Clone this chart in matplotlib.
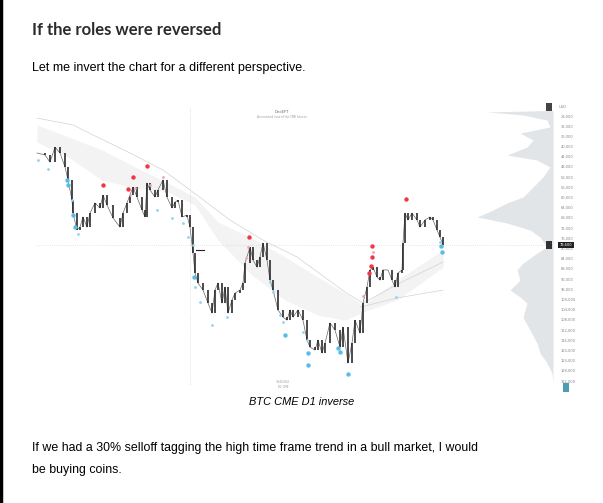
import numpy as np
import matplotlib
matplotlib.use('Agg')
import matplotlib.pyplot as plt

# price trace (bar position, close in thousands, inverted chart)
bars = [37, 45, 50, 55, 60, 65, 68, 72, 73, 77, 80, 83, 87, 90, 95, 100, 103, 107, 113, 120,
        123, 127, 130, 133, 137, 142, 145, 147, 150, 155, 158, 163, 167, 172, 175, 178, 182, 187, 190, 193,
        195, 198, 203, 208, 212, 215, 218, 222, 225, 228, 232, 235, 240, 243, 245, 250, 253, 257, 260, 263,
        267, 270, 273, 278, 283, 287, 290, 293, 298, 303, 307, 310, 315, 318, 322, 325, 330, 335, 340, 343,
        348, 352, 355, 360, 363, 367, 370, 373, 377, 380, 383, 388, 392, 395, 398, 402, 403, 405, 408, 412,
        417, 420, 425, 430, 433, 437, 440, 443]
closes = [42.5, 43.3, 46.1, 40.2, 42.5, 48.0, 53.1, 61.0, 66.1, 72.7, 71.6, 67.6, 71.6, 66.1, 62.1, 64.1, 59.0, 62.9, 68.0, 71.6,
          66.1, 62.1, 59.0, 55.9, 59.8, 64.9, 67.6, 54.3, 57.0, 59.8, 57.0, 53.1, 59.8, 64.1, 61.8, 61.0, 67.6, 66.9, 71.6, 81.8,
          89.6, 93.5, 96.3, 101.4, 105.3, 96.3, 93.5, 101.4, 95.1, 105.3, 100.2, 97.5, 96.3, 93.5, 85.7, 79.4, 84.5, 87.3, 83.3, 77.8,
          84.5, 92.4, 96.3, 104.1, 106.9, 108.1, 104.1, 106.9, 104.1, 108.1, 115.9, 118.7, 119.8, 115.9, 121.0, 117.1, 109.2, 112.0, 118.7, 110.8,
          124.9, 117.1, 108.1, 113.2, 101.4, 95.1, 88.4, 87.3, 91.2, 92.4, 88.4, 88.4, 92.4, 95.1, 89.6, 88.4, 77.8, 66.1, 68.8, 66.1,
          68.8, 71.6, 68.8, 67.6, 68.8, 72.7, 75.5, 78.6]

# moving average ribbon
band_x = [37, 68, 102, 135, 168, 195, 218, 252, 285, 318, 345, 363, 397, 443]
band_hi = [31.5, 36.2, 41.3, 48.0, 54.3, 59.8, 69.6, 75.9, 83.3, 91.2, 97.5, 102.2, 92.4, 80.6]
band_lo = [38.2, 44.1, 53.1, 56.3, 57.8, 62.9, 76.7, 90.4, 100.2, 106.1, 108.1, 104.9, 100.2, 87.3]
ma1_x = [37, 73, 97, 130, 163, 190, 230, 263, 297, 345, 363, 400, 443]
ma1_y = [28.8, 31.5, 36.2, 42.5, 49.2, 57.0, 68.8, 76.7, 83.3, 97.1, 101.4, 93.5, 85.3]
ma2_x = [360, 397, 443]
ma2_y = [103.0, 99.4, 96.3]

# signal dots
red_big_x = [103, 128, 133, 147, 249, 406, 372, 372, 371, 369]
red_big_y = [55.1, 56.7, 51.9, 47.6, 75.5, 60.6, 79.0, 83.3, 86.9, 89.6]
red_sm_x = [135, 163, 130, 150, 248, 246, 363, 373]
red_sm_y = [56.3, 51.9, 59.0, 55.1, 79.4, 83.7, 98.7, 81.4]
blue_big_x = [67, 68, 73, 75, 194, 285, 308, 308, 338, 340, 348, 441, 442]
blue_big_y = [53.1, 55.1, 66.9, 71.6, 91.2, 114.0, 125.7, 121.0, 119.1, 120.6, 129.3, 79.0, 81.4]
blue_sm_x = [38, 48, 72, 78, 157, 172, 183, 188, 193, 195, 200, 212, 227, 270, 273, 280, 283, 303, 307, 396, 440]
blue_sm_y = [45.3, 48.8, 61.0, 74.3, 64.9, 68.0, 70.0, 75.5, 78.6, 95.1, 101.0, 110.0, 106.9, 93.2, 97.1, 106.1, 108.9, 112.8, 115.9, 99.0, 77.5]

# volume profile
prof_y = [25.8, 26.4, 27.6, 29.6, 32.3, 34.7, 37.4, 40.2, 43.3, 45.3, 48.0, 51.9, 55.9, 59.8, 62.1, 64.9, 67.6, 70.0,
          72.7, 75.5, 79.4, 81.8, 85.7, 88.4, 92.4, 96.3, 99.0, 101.4, 106.9, 112.0, 117.1, 121.0, 124.9, 128.9, 132.8]
prof_w = [0, 66, 30, 6, 3, 33, 20, 26, 46, 16, 3, 10, 20, 30, 46, 60, 76, 46,
          23, 13, 6, 16, 30, 36, 33, 43, 33, 26, 30, 23, 16, 13, 6, 1, 0]

price_ticks = list(range(28, 133, 4))
last_price = 78.6

W, H = 603, 503
fig = plt.figure(figsize=(W / 100, H / 100), dpi=100)

def fx(px):
    return px / W

def fy(py):
    return 1 - py / H

# left page border
fig.add_artist(plt.Line2D([0.002, 0.002], [0, 1], color='black', lw=2.5))

fig.text(fx(32), fy(30), 'If the roles were reversed', fontsize=12, fontweight='bold',
         color='#2b2b2b', family='Lato', va='center', ha='left')
fig.text(fx(32), fy(68), 'Let me invert the chart for a different perspective.', fontsize=9,
         color='black', family='Liberation Sans', va='center', ha='left')
fig.text(fx(302), fy(402), 'BTC CME D1 inverse', fontsize=7.9, style='italic',
         color='black', family='Liberation Sans', va='center', ha='center')
fig.text(fx(32), fy(448), 'If we had a 30% selloff tagging the high time frame trend in a bull market, I would',
         fontsize=8.9, color='black', family='Liberation Sans', va='center', ha='left')
fig.text(fx(32), fy(470), 'be buying coins.', fontsize=8.9, color='black',
         family='Liberation Sans', va='center', ha='left')

ax = fig.add_axes([fx(35), fy(390), fx(555 - 35), (390 - 105) / H])
ax.set_xlim(35, 555)
ax.set_ylim(135.5, 23.68)
ax.patch.set_alpha(0)
for s in ax.spines.values():
    s.set_visible(False)

# volume profile
ax.fill_betweenx(prof_y, 553 - np.array(prof_w), 553, color='#e2e5e8', lw=0, zorder=1)

# ribbon and averages
ax.fill_between(band_x, band_hi, band_lo, color='#f3f3f3', lw=0, zorder=1)
ax.plot(ma1_x, ma1_y, color='#d2d2d2', lw=0.5, zorder=2)
ax.plot(ma2_x, ma2_y, color='#d2d2d2', lw=0.5, zorder=2)

# crosshair
ax.axvline(190, ymin=0.02, ymax=0.99, color='#c8c8c8', lw=0.5, ls=(0, (1, 2)), zorder=1)
ax.plot([37, 553], [last_price, last_price], color='#d0d0d0', lw=0.5, ls=(0, (1, 2)), zorder=1)

# price candles
ax.plot(bars, closes, color='#666666', lw=0.5, zorder=3)
opens = closes[:-1]
ax.vlines(bars[1:], opens, closes[1:], color='#1a1a1a', lw=1.1, zorder=3)

# signal dots
ax.scatter(red_big_x, red_big_y, s=10, color='#f23645', lw=0, zorder=4)
ax.scatter(red_sm_x, red_sm_y, s=4, color='#f7a1aa', lw=0, zorder=4)
ax.scatter(blue_big_x, blue_big_y, s=10, color='#55bde8', lw=0, zorder=4)
ax.scatter(blue_sm_x, blue_sm_y, s=4, color='#8fd3f0', lw=0, zorder=4)
ax.plot([196, 204], [80.6, 80.6], color='#222222', lw=0.8, zorder=4)

# price scale
ax.yaxis.tick_right()
ax.set_yticks(price_ticks)
ax.set_yticklabels(['{:,}'.format(v * 1000) for v in price_ticks], fontsize=2.6, color='#888888')
ax.tick_params(axis='y', length=0, pad=4)
ax.set_xticks([])
ax.text(566, last_price, '{:,}'.format(int(last_price * 1000)), fontsize=2.6, color='white',
        ha='center', va='center', zorder=5,
        bbox=dict(boxstyle='square,pad=0.4', fc='#222222', ec='none'))
ax.text(549, last_price, ' ', fontsize=3,
        bbox=dict(boxstyle='square,pad=0.5', fc='#333333', ec='none'), ha='center', va='center')
ax.text(549, 24.6, ' ', fontsize=3,
        bbox=dict(boxstyle='square,pad=0.5', fc='#444444', ec='none'), ha='center', va='center')
ax.text(559, 24.6, 'USD', fontsize=2.6, color='#888888', ha='left', va='center')
ax.text(566, 134.5, ' ', fontsize=4,
        bbox=dict(boxstyle='square,pad=0.3', fc='#4a9fb5', ec='none'), ha='center', va='center')

# chart header and footer
ax.text(282, 26.4, 'DecEFT', fontsize=2.8, color='#666666', ha='center', va='center')
ax.text(282, 28.4, 'An inverted view of the CME futures', fontsize=2, color='#999999', ha='center', va='center')
ax.text(283, 132.5, '3/24/2024', fontsize=2, color='#999999', ha='center', va='center')
ax.text(283, 134.2, 'D1 CME', fontsize=2, color='#999999', ha='center', va='center')

plt.savefig('out.png', dpi=100)
